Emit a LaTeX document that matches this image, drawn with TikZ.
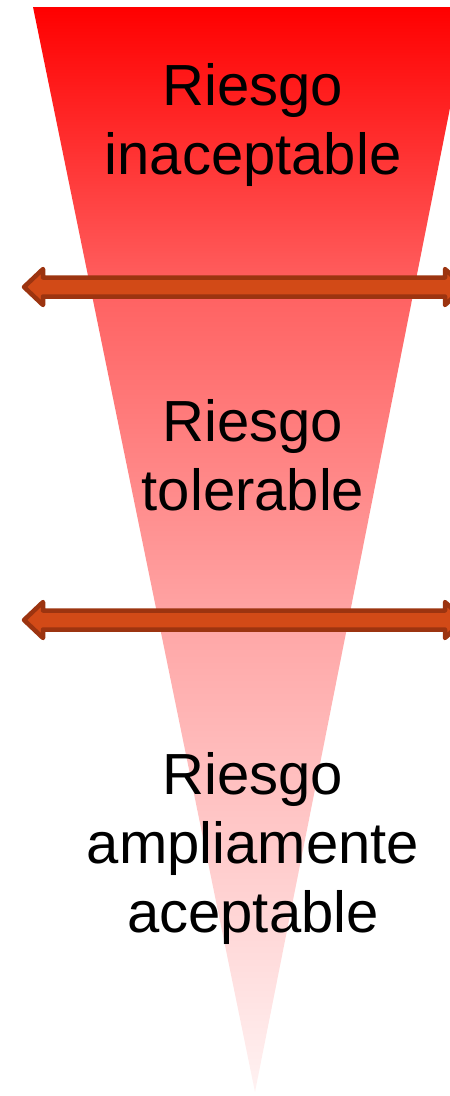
\documentclass[tikz,border=0pt]{standalone}
\usepackage{fontspec}
\setsansfont{Liberation Sans}
\definecolor{arrowfill}{RGB}{210,74,23}
\definecolor{arrowline}{RGB}{156,52,16}
\definecolor{riskpink}{RGB}{255,242,242}
\pgfdeclareverticalshading{riskfade}{100bp}{
  color(0bp)=(riskpink);
  color(25bp)=(riskpink);
  color(46bp)=(red!34);
  color(62bp)=(red!62);
  color(75bp)=(red);
  color(100bp)=(red)}

\begin{document}
\begin{tikzpicture}[
    x=1pt, y=-1pt,
    level/.style={align=center, font=\sffamily\fontsize{58}{69}\selectfont, inner sep=0pt},
    band/.style={draw=arrowline, fill=arrowfill, line width=4.5pt, line join=round}
]
\useasboundingbox (0,0) rectangle (450,1096);
\clip (0,0) rectangle (450,1096);

% risk triangle
\shade[shading=riskfade] (33,7) -- (470,7) -- (255,1092) -- cycle;

% borders between the levels
\foreach \y in {287,620} {
  \draw[band] (24,\y) -- (43,\y-18) -- (43,\y-9.5) -- (445,\y-9.5) -- (445,\y-18)
    -- (464,\y) -- (445,\y+18) -- (445,\y+9.5) -- (43,\y+9.5) -- (43,\y+18) -- cycle;
}

\node[level] (inacc) at (253,125) {Riesgo\\inaceptable};
\node[level] (toler) at (253,455) {Riesgo\\tolerable};
\node[level] (accep) at (253,848) {Riesgo\\ampliamente\\aceptable};
\end{tikzpicture}
\end{document}
